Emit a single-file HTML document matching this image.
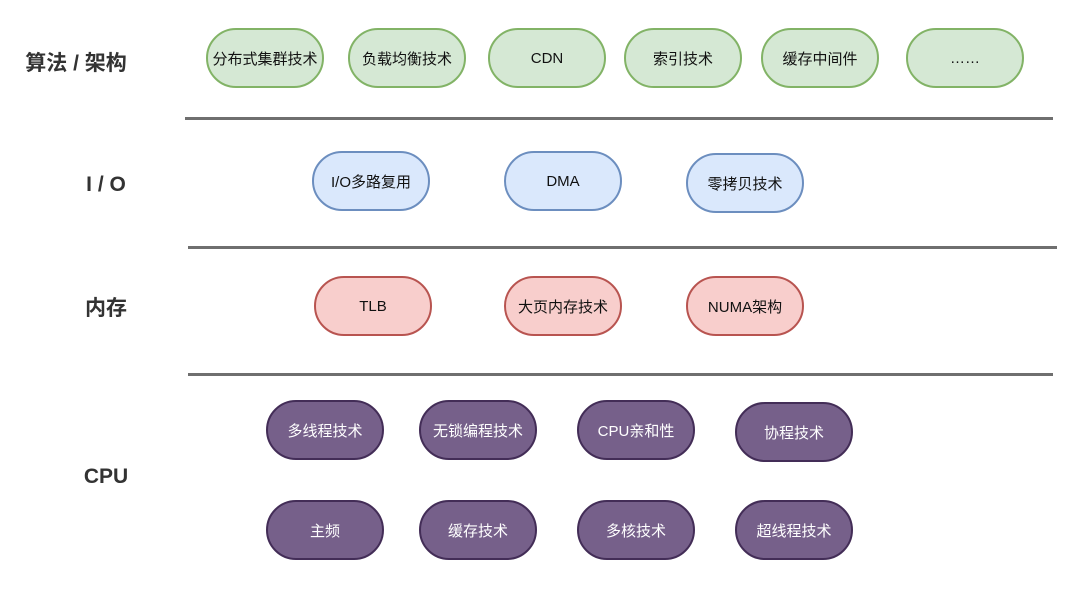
<!DOCTYPE html>
<html><head><meta charset="utf-8"><style>
body{margin:0;width:1080px;height:590px;background:#fff;position:relative;overflow:hidden;font-family:"Liberation Sans","Noto Sans CJK SC",sans-serif}
.p{position:absolute;width:114px;height:56px;border-radius:30px;border:2px solid;display:flex;align-items:center;justify-content:center;font-size:15px;color:#111;box-sizing:content-box}
.g{background:#d5e8d4;border-color:#82b366}
.b{background:#dae8fc;border-color:#6c8ebf}
.r{background:#f8cecc;border-color:#b85450}
.u{background:#76608a;border-color:#432d57;color:#fff}
.l{position:absolute;font-size:21px;font-weight:bold;color:#333;transform:translate(-50%,-50%);white-space:nowrap}
.h{position:absolute;height:3px;background:#6f6f6f}
</style></head><body>
<div class="l" style="left:76px;top:62px">算法 / 架构</div>
<div class="l" style="left:106px;top:185px">I / O</div>
<div class="l" style="left:106px;top:307px">内存</div>
<div class="l" style="left:106px;top:477px">CPU</div>
<div class="h" style="left:185px;top:117px;width:868px"></div>
<div class="h" style="left:188px;top:246px;width:869px"></div>
<div class="h" style="left:188px;top:373px;width:865px"></div>

<div class="p g" style="left:206px;top:28px">分布式集群技术</div>
<div class="p g" style="left:348px;top:28px">负载均衡技术</div>
<div class="p g" style="left:488px;top:28px">CDN</div>
<div class="p g" style="left:624px;top:28px">索引技术</div>
<div class="p g" style="left:761px;top:28px">缓存中间件</div>
<div class="p g" style="left:906px;top:28px">……</div>

<div class="p b" style="left:312px;top:151px">I/O多路复用</div>
<div class="p b" style="left:504px;top:151px">DMA</div>
<div class="p b" style="left:686px;top:153px">零拷贝技术</div>

<div class="p r" style="left:314px;top:276px">TLB</div>
<div class="p r" style="left:504px;top:276px">大页内存技术</div>
<div class="p r" style="left:686px;top:276px">NUMA架构</div>

<div class="p u" style="left:266px;top:400px">多线程技术</div>
<div class="p u" style="left:419px;top:400px">无锁编程技术</div>
<div class="p u" style="left:577px;top:400px">CPU亲和性</div>
<div class="p u" style="left:735px;top:402px">协程技术</div>
<div class="p u" style="left:266px;top:500px">主频</div>
<div class="p u" style="left:419px;top:500px">缓存技术</div>
<div class="p u" style="left:577px;top:500px">多核技术</div>
<div class="p u" style="left:735px;top:500px">超线程技术</div>
</body></html>
